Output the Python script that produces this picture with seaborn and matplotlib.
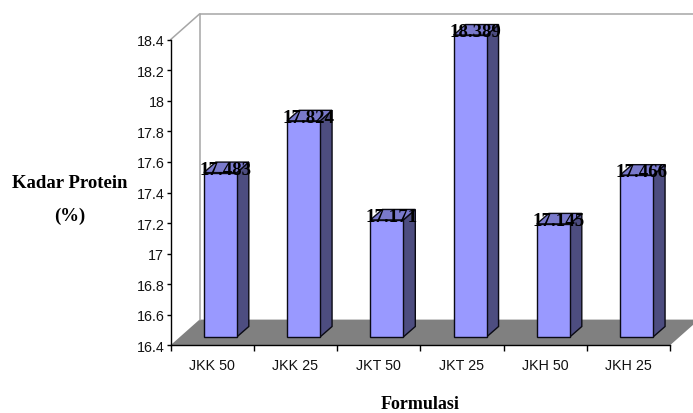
import matplotlib
matplotlib.use("Agg")
import matplotlib.pyplot as plt
import pandas as pd
import seaborn as sns
from matplotlib.patches import Polygon
from matplotlib.lines import Line2D
from matplotlib.transforms import Affine2D, IdentityTransform

# Protein content per formulation
formulas = ["JKK 50", "JKK 25", "JKT 50", "JKT 25", "JKH 50", "JKH 25"]
protein = [17.483, 17.824, 17.171, 18.389, 17.145, 17.466]
y_ticks = [16.4, 16.6, 16.8, 17.0, 17.2, 17.4, 17.6, 17.8, 18.0, 18.2, 18.4]

FACE = "#9999FF"
SIDE = "#4D4D80"
TOP = "#7A7ACC"
EDGE = "#0A0A14"
WALL = "#A6A6A6"
FLOOR = "#808080"
W, H = 693, 414

sns.set_style("ticks")
plt.rcParams["font.family"] = ["Liberation Sans", "DejaVu Sans"]

fig = plt.figure(figsize=(W / 100, H / 100), dpi=100, facecolor="white")
ax = fig.add_axes([170.5 / W, 1 - 346.3 / H, 499.5 / W, 305.6 / H])
ax.patch.set_alpha(0)

df = pd.DataFrame({"formula": formulas, "protein": protein})
sns.barplot(data=df, x="formula", y="protein", color=FACE, saturation=1,
            width=0.396, edgecolor=EDGE, linewidth=1, ax=ax, zorder=4)
ax.set_xlim(-0.5, len(formulas) - 0.5)
ax.set_ylim(y_ticks[0], y_ticks[-1])
fig.canvas.draw()

# Oblique depth of the box, and the offset of the bars inside it (pixels)
depth_x, depth_y = 29, 25.7
bar_dx, bar_dy = 8.2, 8.3
side_dx, side_dy = 12, 10.5
y0 = ax.transData.transform((0, y_ticks[0]))[1]
bar_tf = (ax.transData
          + Affine2D().translate(0, -y0).scale(1, 0.9935).translate(bar_dx, y0 + bar_dy))

# Floor and back wall of the box
(x_l, y_b) = ax.transData.transform((-0.5, y_ticks[0]))
(x_r, y_t) = ax.transData.transform((len(formulas) - 0.5, y_ticks[-1]))
pix = IdentityTransform()
fig.add_artist(Polygon([(x_l, y_b), (x_l + depth_x, y_b + depth_y),
                        (x_r + depth_x, y_b + depth_y), (x_r, y_b)],
                       closed=True, fc=FLOOR, ec="none", transform=pix, zorder=0))
for xs, ys in [((x_l + depth_x, x_l + depth_x), (y_b + depth_y, y_t + depth_y)),
               ((x_l + depth_x, x_r + depth_x), (y_t + depth_y, y_t + depth_y)),
               ((x_l, x_l + depth_x), (y_t, y_t + depth_y))]:
    fig.add_artist(Line2D(xs, ys, color=WALL, lw=1.1, transform=pix, zorder=0))

# Bars: front faces from seaborn, extruded side and top faces behind them
for rect, value in zip(ax.patches[:len(protein)], protein):
    rect.set_y(y_ticks[0])
    rect.set_height(value - y_ticks[0])
    rect.set_transform(bar_tf)
    rect.set_clip_on(False)
    x0, x1 = rect.get_x(), rect.get_x() + rect.get_width()
    (px0, pb) = bar_tf.transform((x0, y_ticks[0]))
    (px1, pt) = bar_tf.transform((x1, value))
    ax.add_patch(Polygon([(px1, pb), (px1 + side_dx, pb + side_dy),
                          (px1 + side_dx, pt + side_dy), (px1, pt)],
                         closed=True, fc=SIDE, ec=EDGE, lw=1, transform=pix,
                         clip_on=False, zorder=3))
    ax.add_patch(Polygon([(px0, pt), (px0 + side_dx, pt + side_dy),
                          (px1 + side_dx, pt + side_dy), (px1, pt)],
                         closed=True, fc=TOP, ec=EDGE, lw=1, transform=pix,
                         clip_on=False, zorder=3))

# Value labels sit on the front edge of each bar's top face
for i, value in enumerate(protein):
    ax.annotate(f"{value:g}", xy=(i, value), xycoords=bar_tf,
                xytext=(-21 * 0.72, -1 * 0.72), textcoords="offset points",
                ha="left", va="baseline", fontsize=13.6, fontweight="bold",
                color="black", family="Liberation Serif", zorder=6,
                annotation_clip=False)

# Axes furniture
sns.despine(ax=ax)
for spine in ("left", "bottom"):
    ax.spines[spine].set_color("black")
    ax.spines[spine].set_linewidth(1)
    ax.spines[spine].set_zorder(5)

ax.set_yticks(y_ticks)
ax.set_yticklabels([f"{t:g}" for t in y_ticks], fontsize=10.3, color="#111111")
ax.tick_params(axis="y", length=3, width=1, color="black", pad=1.5)
ax.set_xticks(range(len(formulas)))
ax.set_xticklabels(formulas, fontsize=10.3, color="#111111")
ax.tick_params(axis="x", which="major", length=0, pad=9)
ax.set_xticks([i - 0.5 for i in range(len(formulas) + 1)], minor=True)
ax.tick_params(axis="x", which="minor", length=4, width=1, color="black")

ax.set_xlabel("Formulasi", fontsize=13, fontweight="bold", family="Liberation Serif",
              va="center", color="black")
ax.xaxis.set_label_coords((420.5 - 170.5) / 499.5, (346.3 - 405) / 305.6)
ax.set_ylabel("Kadar Protein\n(%)", fontsize=13.5, fontweight="bold",
              family="Liberation Serif", rotation=0, ha="center", va="center",
              linespacing=2.25, color="black")
ax.yaxis.set_label_coords((69.5 - 170.5) / 499.5, (346.3 - 200) / 305.6)

fig.savefig("out.png", dpi=100, facecolor="white")
